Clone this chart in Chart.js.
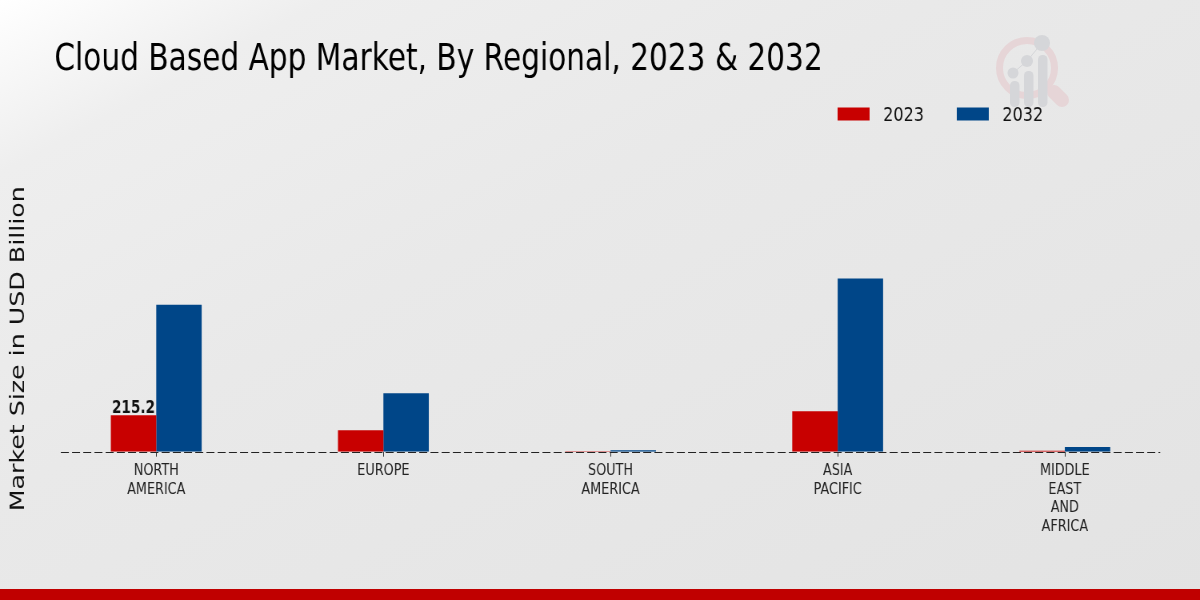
<!DOCTYPE html>
<html>
<head>
<meta charset="utf-8">
<title>Cloud Based App Market</title>
<script src="https://cdn.jsdelivr.net/npm/chart.js@4"></script>
<style>
html, body { margin: 0; padding: 0; }
body {
	width: 1200px; height: 600px; overflow: hidden; position: relative;
	background: linear-gradient(152deg, #ffffff 0%, #eeeeee 14%, #e9e9e9 40%, #e3e3e3 100%);
}
#logo { position: absolute; left: 0; top: 0; }
/* the original picture is squeezed sideways, text and all */
#mainChart { position: absolute; left: 0; top: 0; transform: scale(0.8, 1); transform-origin: 0 0; }
#footer { position: absolute; left: 0; top: 589px; width: 1200px; height: 11px; background: #c00000; }
</style>
</head>
<body>
<svg id="logo" width="1200" height="140">
	<circle cx="1027" cy="68" r="27.5" fill="none" stroke="#e6d5d7" stroke-width="7"/>
	<line x1="1054" y1="92" x2="1062" y2="100" stroke="#e6d5d7" stroke-width="14" stroke-linecap="round"/>
	<polyline points="1013,73 1027,61 1042,43" fill="none" stroke="#d5d6d9" stroke-width="1"/>
	<circle cx="1013" cy="73" r="5.5" fill="#d5d6d9"/>
	<circle cx="1027" cy="61" r="6" fill="#d5d6d9"/>
	<circle cx="1042" cy="43" r="8" fill="#d5d6d9"/>
	<rect x="1010" y="81" width="9.5" height="26" rx="4.5" fill="#d5d6d9"/>
	<rect x="1024" y="71" width="9.5" height="36" rx="4.5" fill="#d5d6d9"/>
	<rect x="1038" y="55" width="9.5" height="52" rx="4.5" fill="#d5d6d9"/>
</svg>
<canvas id="mainChart" width="1500" height="600"></canvas>
<div id="footer"></div>
<script>
const regions = [["NORTH", "AMERICA"], "EUROPE", ["SOUTH", "AMERICA"], ["ASIA", "PACIFIC"], ["MIDDLE", "EAST", "AND", "AFRICA"]];
const values2023 = [215.2, 127, 3, 239, 5];
const values2032 = [867, 345, 9, 1023, 27];
const seriesNames = ["2023", "2032"];
const titleText = "Cloud Based App Market, By Regional, 2023 & 2032";
const yLabel = "Market Size in USD Billion";

const font = "'DejaVu Sans', sans-serif";

// title offset, legend, dashed zero line and the one value label
const extras = {
	id: "extras",
	afterLayout(chart) {
		chart.titleBlock.left = 68;
	},
	afterDatasetsDraw(chart) {
		const ctx = chart.ctx;
		const x = chart.scales.x;
		const y0 = Math.round(chart.scales.y.getPixelForValue(0)) + 0.5;
		ctx.save();
		ctx.strokeStyle = "#222222";
		ctx.lineWidth = 1.2;
		ctx.setLineDash([10, 4]);
		ctx.beginPath();
		ctx.moveTo(x.getPixelForValue(-0.42), y0);
		ctx.lineTo(x.getPixelForValue(4.42), y0);
		ctx.stroke();
		ctx.setLineDash([]);

		const bar = chart.getDatasetMeta(0).data[0];
		ctx.fillStyle = "#111111";
		ctx.font = "bold 17px " + font;
		ctx.textAlign = "center";
		ctx.textBaseline = "alphabetic";
		ctx.fillText(String(values2023[0]), bar.x, bar.y - 2);

		ctx.font = "20px " + font;
		ctx.textAlign = "left";
		ctx.textBaseline = "middle";
		chart.data.datasets.forEach((ds, i) => {
			const bx = 1047 + i * 149;
			ctx.fillStyle = ds.backgroundColor;
			ctx.fillRect(bx, 107.5, 40, 13);
			ctx.fillStyle = "#111111";
			ctx.fillText(ds.label, bx + 57, 115.5);
		});
		ctx.restore();
	}
};

new Chart("mainChart", {
	type: "bar",
	data: {
		labels: regions,
		datasets: [
			{ label: seriesNames[0], data: values2023, backgroundColor: "#c80000" },
			{ label: seriesNames[1], data: values2032, backgroundColor: "#004688" }
		]
	},
	plugins: [extras],
	options: {
		responsive: false,
		animation: false,
		categoryPercentage: 0.4,
		barPercentage: 1,
		layout: { padding: { left: 0, right: 27, top: 0, bottom: 59.1 } },
		plugins: {
			tooltip: { enabled: false },
			legend: { display: false },
			title: {
				display: true,
				text: titleText,
				align: "start",
				color: "#000000",
				font: { family: font, size: 37, weight: "normal" },
				padding: { top: 38, bottom: 163.5 }
			}
		},
		scales: {
			x: {
				border: { display: false },
				grid: { offset: false, drawOnChartArea: false, drawTicks: true, tickLength: 5, tickColor: "#333333" },
				ticks: { color: "#222222", maxRotation: 0, autoSkip: false, padding: 5, font: { family: font, size: 16, lineHeight: 1.16 } }
			},
			y: {
				min: 0,
				max: 1215,
				border: { display: false },
				grid: { display: false },
				ticks: { display: false },
				title: {
					display: true,
					text: yLabel,
					color: "#111111",
					font: { family: font, size: 25.3 },
					padding: { top: 8, bottom: 7 }
				}
			}
		}
	}
});
</script>
</body>
</html>
